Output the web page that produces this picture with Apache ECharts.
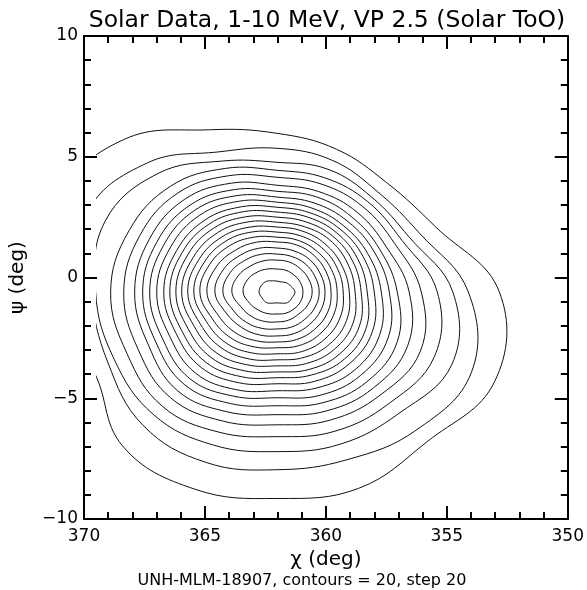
<!DOCTYPE html>
<html><head><meta charset="utf-8">
<script src="https://cdn.jsdelivr.net/npm/echarts@6/dist/echarts.min.js"></script>
<style>html,body{margin:0;padding:0;background:#fff}#c{width:587px;height:590px}</style>
</head><body><div id="c"></div>
<script>
// ---- data ----
const titleText = 'Solar Data, 1-10 MeV, VP 2.5 (Solar ToO)';
const footText = 'UNH-MLM-18907, contours = 20, step 20';
const xName = '\u03c7 (deg)';
const yName = '\u03c8 (deg)';
const xTicks = [370, 365, 360, 355, 350];
const yTicks = [-10, -5, 0, 5, 10];
const gridEdgeX = 369.45;          // left edge of the measured data grid
const peak = [362.0, -0.6];        // centre of the innermost contour
// screen directions of the rays (deg, 0 = right, 90 = up)
const rayAngles = [180, 202.5, 225, 247.5, 270, 292.5, 315, 337.5, 0, 22.5, 45, 67.5, 90, 112.5, 135, 157.5];
// distance (deg) of each contour (outer -> inner) from the peak along each ray
const r180 = [10.12,7.69,7.48,6.86,6.32,5.87,5.54,5.25,4.96,4.67,4.42,4.17,3.93,3.68,3.43,3.18,2.89,2.56,2.23,1.86,1.40,0.74];
const r202 = [8.26,7.56,7.27,6.69,6.20,5.74,5.41,5.10,4.79,4.50,4.24,3.97,3.70,3.43,3.16,2.89,2.60,2.27,1.96,1.61,1.22,0.66];
const r225 = [9.01,7.81,7.19,6.69,6.20,5.79,5.41,5.08,4.75,4.42,4.13,3.84,3.55,3.26,2.98,2.69,2.40,2.07,1.78,1.45,1.07,0.62];
const r247 = [8.84,7.64,6.86,6.28,5.79,5.37,5.00,4.67,4.38,4.07,3.80,3.53,3.26,3.00,2.73,2.46,2.19,1.92,1.63,1.32,0.97,0.50];
const r270 = [8.55,7.36,6.61,5.99,5.50,5.08,4.71,4.38,4.09,3.80,3.55,3.31,3.06,2.81,2.56,2.31,2.07,1.82,1.53,1.24,0.91,0.45];
const r292 = [8.80,7.52,6.82,6.24,5.74,5.33,4.96,4.63,4.30,4.01,3.72,3.47,3.20,2.93,2.67,2.40,2.13,1.86,1.57,1.26,0.95,0.50];
const r315 = [8.76,8.10,7.11,6.53,6.03,5.62,5.25,4.88,4.55,4.21,3.93,3.64,3.35,3.06,2.77,2.48,2.19,1.90,1.61,1.28,0.99,0.62];
const r337 = [9.71,8.68,7.81,7.02,6.40,5.83,5.37,4.96,4.59,4.26,3.97,3.68,3.39,3.10,2.81,2.52,2.25,1.96,1.69,1.38,1.05,0.66];
const r000 = [9.17,7.89,7.25,6.61,5.95,5.45,4.96,4.63,4.30,4.01,3.72,3.47,3.22,2.98,2.73,2.48,2.23,1.98,1.74,1.45,1.07,0.74];
const r022 = [7.07,6.36,5.91,5.58,5.25,4.88,4.59,4.34,4.07,3.84,3.60,3.37,3.14,2.89,2.67,2.43,2.19,1.94,1.69,1.41,1.04,0.62];
const r045 = [6.40,5.87,5.54,5.29,5.00,4.67,4.38,4.13,3.88,3.68,3.47,3.26,3.06,2.81,2.60,2.36,2.15,1.90,1.65,1.36,0.99,0.54];
const r067 = [6.40,5.91,5.50,5.12,4.83,4.50,4.26,3.99,3.76,3.55,3.35,3.14,2.93,2.73,2.52,2.31,2.11,1.84,1.59,1.34,0.97,0.45];
const r090 = [6.57,5.95,5.37,5.04,4.75,4.42,4.17,3.93,3.72,3.51,3.31,3.10,2.89,2.69,2.48,2.27,2.07,1.82,1.57,1.32,0.95,0.45];
const r112 = [7.27,6.28,5.87,5.54,5.21,4.88,4.59,4.32,4.07,3.82,3.60,3.37,3.14,2.91,2.69,2.46,2.23,1.96,1.69,1.40,1.03,0.50];
const r135 = [8.93,7.56,6.94,6.20,5.79,5.41,5.08,4.79,4.50,4.21,3.97,3.72,3.47,3.22,2.98,2.73,2.44,2.15,1.86,1.53,1.16,0.62];
const r157 = [9.92,8.47,7.67,6.61,6.12,5.70,5.37,5.06,4.77,4.48,4.24,3.99,3.74,3.49,3.24,3.00,2.71,2.40,2.09,1.74,1.32,0.70];
const rays = [r180, r202, r225, r247, r270, r292, r315, r337, r000, r022, r045, r067, r090, r112, r135, r157];

// contour k as data-space vertices
function contourPoints(k) {
  return rays.map((r, i) => {
    const a = rayAngles[i] * Math.PI / 180;
    return [peak[0] - r[k] * Math.cos(a), peak[1] + r[k] * Math.sin(a)];
  });
}
const contourIndex = r000.map((_, k) => [k]);

const font = 'DejaVu Sans';
const fmt = v => (v < 0 ? '\u2212' + Math.abs(v) : String(v));
function axisCommon() {
  return {
    axisLine: { show: true, onZero: false, lineStyle: { color: '#000', width: 2 } },
    axisTick: { show: true, inside: true, length: 13, lineStyle: { color: '#000', width: 2 } },
    minorTick: { show: true, splitNumber: 5, length: 7, lineStyle: { color: '#000', width: 2 } },
    splitLine: { show: false }, minorSplitLine: { show: false }
  };
}
const chart = echarts.init(document.getElementById('c'), null, { renderer: 'canvas' });
chart.setOption({
  animation: false,
  backgroundColor: '#fff',
  title: [
    { text: titleText, left: 322, top: 4, textAlign: 'center',
      textStyle: { fontFamily: font, fontSize: 23.5, fontWeight: 'normal', color: '#000' } },
    { text: footText, left: 297, top: 568, textAlign: 'center',
      textStyle: { fontFamily: font, fontSize: 16, fontWeight: 'normal', color: '#000' } }
  ],
  grid: [
    { left: 83, right: 19, top: 36, bottom: 71 },
    { left: 83 + (370 - gridEdgeX) * 24.25, right: 19, top: 36, bottom: 71 }
  ],
  xAxis: [
    Object.assign({ type: 'value', gridIndex: 0, position: 'bottom', min: xTicks[4], max: xTicks[0], interval: 5, inverse: true,
      name: xName, nameLocation: 'middle', nameGap: 25,
      nameTextStyle: { fontFamily: font, fontSize: 20, color: '#000' },
      axisLabel: { fontFamily: font, fontSize: 17, color: '#000', margin: 9, formatter: fmt } }, axisCommon()),
    Object.assign({ type: 'value', gridIndex: 0, position: 'top', min: xTicks[4], max: xTicks[0], interval: 5, inverse: true,
      axisLabel: { show: false } }, axisCommon()),
    { type: 'value', gridIndex: 1, min: 350, max: gridEdgeX, inverse: true, show: false, axisLine: { onZero: false } }
  ],
  yAxis: [
    Object.assign({ type: 'value', gridIndex: 0, position: 'left', min: yTicks[0], max: yTicks[4], interval: 5,
      name: yName, nameLocation: 'middle', nameGap: 56,
      nameTextStyle: { fontFamily: font, fontSize: 20, color: '#000' },
      axisLabel: { fontFamily: font, fontSize: 17, color: '#000', margin: 6, formatter: fmt } }, axisCommon()),
    Object.assign({ type: 'value', gridIndex: 0, position: 'right', min: yTicks[0], max: yTicks[4], interval: 5,
      axisLabel: { show: false } }, axisCommon()),
    { type: 'value', gridIndex: 1, min: -10, max: 10, show: false, axisLine: { onZero: false } }
  ],
  series: [{
    type: 'custom', xAxisIndex: 2, yAxisIndex: 2, clip: true, silent: true,
    data: contourIndex,
    renderItem: function (params, api) {
      const k = api.value(0);
      const pts = contourPoints(k).map(p => api.coord(p));
      return {
        type: 'polygon',
        shape: { points: pts, smooth: 0.4 },
        style: { fill: null, stroke: '#111', lineWidth: 1 }
      };
    }
  }]
});
</script></body></html>
